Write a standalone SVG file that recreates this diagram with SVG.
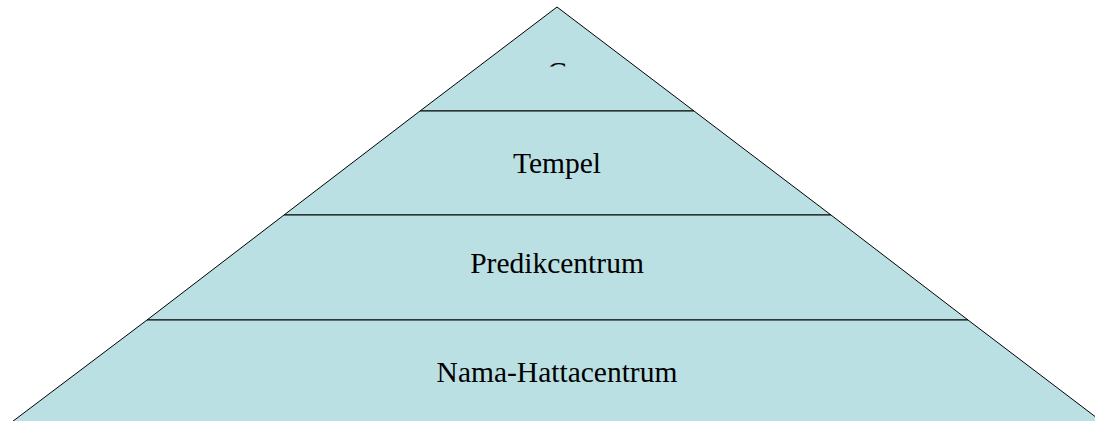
<svg xmlns="http://www.w3.org/2000/svg" width="1095" height="421" viewBox="0 0 1095 421">
<style>
.layer{fill:#bbe0e3;stroke:#000;stroke-width:1}
.lbl{font-family:"Liberation Serif","Times New Roman",serif;font-size:29.5px;fill:#000;text-anchor:middle}
</style>
<defs>
<clipPath id="topclip"><rect x="0" y="0" width="1095" height="66.5"/></clipPath>
</defs>
<rect width="1095" height="421" fill="#fff"/>
<g id="layer1">
<polygon class="layer" points="557,7 694,111 420,111"/>
<text class="lbl" x="557" y="82" clip-path="url(#topclip)">C</text>
</g>
<g id="layer2">
<polygon class="layer" points="420,111 694,111 831,215 284,215"/>
<text class="lbl" x="557" y="173">Tempel</text>
</g>
<g id="layer3">
<polygon class="layer" points="284,215 831,215 968,320 147,320"/>
<text class="lbl" x="557" y="273">Predikcentrum</text>
</g>
<g id="layer4">
<polygon class="layer" points="147,320 968,320 1126,440 -12,440"/>
<text class="lbl" x="557" y="382">Nama-Hattacentrum</text>
</g>
<g id="connectors"></g>
</svg>
